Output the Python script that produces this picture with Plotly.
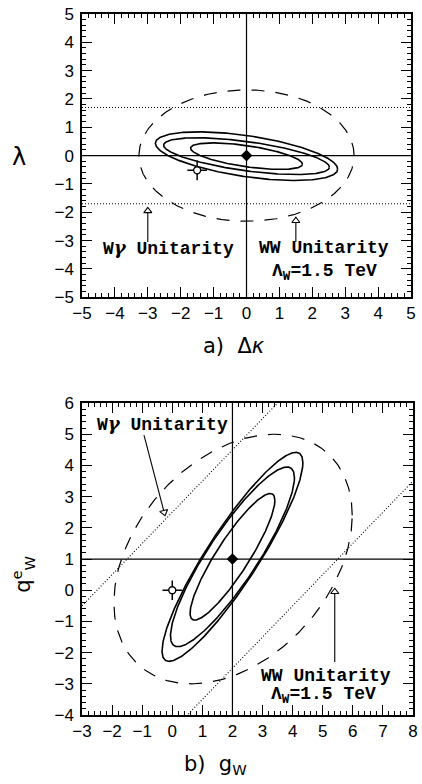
import numpy as np
import plotly.graph_objects as go
from plotly.subplots import make_subplots

# ---------------- Panel a) : Delta kappa vs lambda ----------------
a_center = [0.0, -0.02]
a_cont_ax = [2.77, 2.52, 1.70]     # half-widths of the confidence contours
a_cont_ay = [0.86, 0.65, 0.47]     # half-heights
a_cont_rho = [-0.53, -0.60, -0.60] # tilt (correlation)
a_ww_center = [0.0, 0.0]
a_ww_axes = [3.27, 2.32]
a_ww_rho = 0.0
a_wg_lambda = [1.7, -1.7]          # W-gamma unitarity bound (horizontal)
a_sm_point = [0.0, 0.0]
a_alt_point = [-1.5, -0.52]
a_arrow_x = [-3.0, 1.5]
a_arrow_tail = [-3.05, -3.05]
a_arrow_tip = [-1.95, -2.3]

# ---------------- Panel b) : g_W vs q^e_W ----------------
b_center = [2.0, 1.07]
b_cont_ax = [2.34, 2.06, 1.41]
b_cont_ay = [3.35, 2.88, 2.03]
b_cont_rho = [0.90, 0.88, 0.89]
b_ww_center = [2.02, 1.0]
b_ww_axes = [3.96, 4.0]
b_ww_rho = 0.35
b_wg_offsets = [2.5, -4.5]         # q = g + offset (W-gamma unitarity lines)
b_sm_point = [2.0, 1.0]
b_alt_point = [0.0, 0.0]
b_arrow1 = [[-0.94, 4.97], [-0.27, 2.5]]
b_arrow2 = [[5.4, -2.3], [5.4, -0.05]]

BLACK = "#000000"


def ellipse(cx, cy, ax, ay, rho, n=400):
    t = np.linspace(0, 2 * np.pi, n)
    d = np.arccos(rho)
    return cx + ax * np.cos(t), cy + ay * np.cos(t - d)


fig = make_subplots(rows=2, cols=1, vertical_spacing=0.1)


def line(x, y, row, width=1.2, dash=None):
    fig.add_trace(go.Scatter(x=x, y=y, mode="lines",
                             line=dict(color=BLACK, width=width, dash=dash),
                             hoverinfo="skip", showlegend=False), row=row, col=1)


def marker(x, y, row, **m):
    fig.add_trace(go.Scatter(x=x, y=y, mode="markers", marker=m,
                             hoverinfo="skip", showlegend=False), row=row, col=1)


# ---- panel a traces
for ax_, ay_, r_ in zip(a_cont_ax, a_cont_ay, a_cont_rho):
    x, y = ellipse(a_center[0], a_center[1], ax_, ay_, r_)
    line(x, y, 1, width=1.6)
x, y = ellipse(a_ww_center[0], a_ww_center[1], a_ww_axes[0], a_ww_axes[1], a_ww_rho)
line(x, y, 1, width=1.2, dash="13px,11px")
for lv in a_wg_lambda:
    line([-5, 5], [lv, lv], 1, width=1.1, dash="1px,2px")
line([-5, 5], [0, 0], 1)
line([0, 0], [-5, 5], 1)
for xa, t0, t1 in zip(a_arrow_x, a_arrow_tail, a_arrow_tip):
    line([xa, xa], [t0, t1], 1, width=1.1)
    marker([xa], [t1], 1, symbol="triangle-up", size=7, color="white",
           line=dict(color=BLACK, width=1.1))
marker([a_alt_point[0]], [a_alt_point[1]], 1, symbol="cross-thin", size=14,
       line=dict(color=BLACK, width=1.5))
marker([a_alt_point[0]], [a_alt_point[1]], 1, symbol="circle", size=7, color="white",
       line=dict(color=BLACK, width=1.4))
marker([a_sm_point[0]], [a_sm_point[1]], 1, symbol="diamond", size=9, color=BLACK)

# ---- panel b traces
for ax_, ay_, r_ in zip(b_cont_ax, b_cont_ay, b_cont_rho):
    x, y = ellipse(b_center[0], b_center[1], ax_, ay_, r_)
    line(x, y, 2, width=1.6)
x, y = ellipse(b_ww_center[0], b_ww_center[1], b_ww_axes[0], b_ww_axes[1], b_ww_rho)
line(x, y, 2, width=1.2, dash="13px,11px")
for off in b_wg_offsets:
    gx = np.array([-3.0, 8.0])
    line(gx, gx + off, 2, width=1.1, dash="1px,2px")
line([-3, 8], [b_sm_point[1]] * 2, 2)
line([b_sm_point[0]] * 2, [-4, 6], 2)
for (p0, p1), ang in zip([b_arrow1, b_arrow2], [-15, 0]):
    line([p0[0], p1[0]], [p0[1], p1[1]], 2, width=1.1)
    sym = "triangle-down" if ang else "triangle-up"
    marker([p1[0]], [p1[1]], 2, symbol=sym, size=7, color="white", angle=ang,
           line=dict(color=BLACK, width=1.1))
marker([b_alt_point[0]], [b_alt_point[1]], 2, symbol="cross-thin", size=14,
       line=dict(color=BLACK, width=1.5))
marker([b_alt_point[0]], [b_alt_point[1]], 2, symbol="circle", size=7, color="white",
       line=dict(color=BLACK, width=1.4))
marker([b_sm_point[0]], [b_sm_point[1]], 2, symbol="diamond", size=9, color=BLACK)

# ---- axes
tickfont = dict(family="Liberation Sans", size=17, color=BLACK)
common = dict(showgrid=False, zeroline=False, showline=True, linecolor=BLACK, linewidth=1.5,
              mirror="allticks", ticks="inside", ticklen=10, tickwidth=1.2, tickcolor=BLACK,
              tickfont=tickfont, dtick=1, ticklabeloverflow="allow",
              minor=dict(ticks="inside", ticklen=4, tickwidth=1, tickcolor=BLACK, dtick=0.2,
                         showgrid=False))

fig.update_xaxes(range=[-5, 5], tick0=-5, domain=[0, 0.994], ticklabelstandoff=0,
                 **common, row=1, col=1)
fig.update_yaxes(range=[-5, 5], tick0=-5, domain=[0.596, 1.0], ticklabelstandoff=3,
                 **common, row=1, col=1)
fig.update_xaxes(range=[-3, 8], tick0=-3, domain=[0, 1.0], ticklabelstandoff=0,
                 **common, row=2, col=1)
fig.update_yaxes(range=[-4, 6], tick0=-4, domain=[0, 0.445], ticklabelstandoff=3,
                 **common, row=2, col=1)

ann_font = dict(family="Liberation Mono", size=18, color=BLACK)
gamma = '<span style="font-family:DejaVu Serif"><i>γ</i></span>'
annotations = [
    dict(x=-2.37, y=-3.26, xref="x", yref="y", text=f"<b>W{gamma} Unitarity</b>"),
    dict(x=2.37, y=-3.26, xref="x", yref="y", text="<b>WW Unitarity</b>"),
    dict(x=2.37, y=-4.12, xref="x", yref="y", text="<b>Λ<sub>W</sub>=1.5 TeV</b>"),
    dict(x=-0.31, y=5.33, xref="x2", yref="y2", text=f"<b>W{gamma} Unitarity</b>"),
    dict(x=5.12, y=-2.75, xref="x2", yref="y2", text="<b>WW Unitarity</b>"),
    dict(x=5.02, y=-3.36, xref="x2", yref="y2", text="<b>Λ<sub>W</sub>=1.5 TeV</b>"),
]
for a in annotations:
    a.update(showarrow=False, font=ann_font, xanchor="center", yanchor="middle")

label_font = dict(family="DejaVu Sans", size=21, color=BLACK)
extra = [
    dict(x=0.458, y=0.527, xref="paper", yref="paper", text="a)  Δ<i>κ</i>", font=label_font),
    dict(x=0.402, y=-0.071, xref="paper", yref="paper", text="b)  g<sub>W</sub>", font=label_font),
    dict(x=-0.19, y=0.796, xref="paper", yref="paper", text="λ",
         font=dict(family="DejaVu Sans", size=24, color=BLACK)),
    dict(x=-0.179, y=0.201, xref="paper", yref="paper", text="q<sup>e</sup><sub>W</sub>",
         font=label_font, textangle=-90),
]
for a in extra:
    a.update(showarrow=False, xanchor="center", yanchor="middle")
annotations += extra

fig.update_layout(width=422, height=784, margin=dict(l=82, r=4, t=14, b=69),
                  plot_bgcolor="white", paper_bgcolor="white", annotations=annotations,
                  showlegend=False)

fig.write_html("out.html", config={"displayModeBar": False},
               post_script="document.body.style.margin='0';document.body.style.overflow='hidden';")
